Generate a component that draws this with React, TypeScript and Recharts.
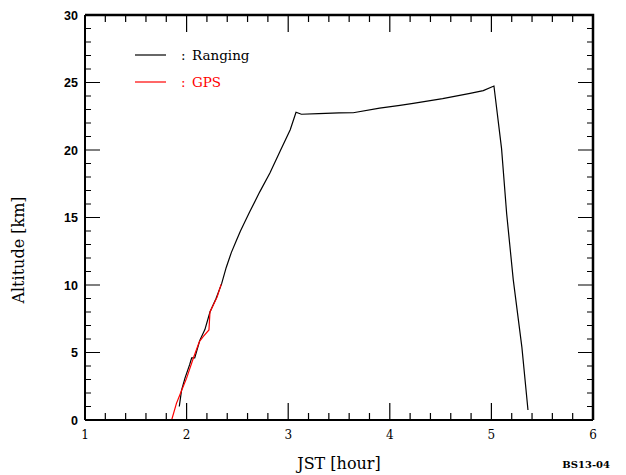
import { LineChart, Line, XAxis, YAxis, Customized } from 'recharts';

// Ranging (balloon altitude from ranging), JST hour vs km
const rangingHour = [1.928, 1.95, 1.984, 2.03, 2.05, 2.08, 2.13, 2.18, 2.23, 2.29, 2.345, 2.39, 2.44, 2.49, 2.53, 2.62, 2.72, 2.82, 2.92, 3.02, 3.077, 3.13, 3.3, 3.5, 3.64, 3.9, 4.1, 4.23, 4.52, 4.79, 4.92, 5.025, 5.1, 5.15, 5.215, 5.3, 5.36];
const rangingAlt = [1.0, 2.2, 3.1, 4.1, 4.6, 4.6, 5.9, 6.7, 8.0, 9.0, 10.1, 11.3, 12.4, 13.3, 14.0, 15.4, 16.9, 18.3, 19.9, 21.5, 22.8, 22.65, 22.7, 22.75, 22.76, 23.1, 23.3, 23.45, 23.8, 24.2, 24.4, 24.74, 20.1, 15.3, 10.4, 5.4, 0.74];

// GPS
const gpsHour = [1.853, 1.9, 1.94, 2.0, 2.066, 2.125, 2.165, 2.22, 2.23, 2.3, 2.34];
const gpsAlt = [0, 1.23, 1.98, 3.1, 4.57, 5.8, 6.2, 6.67, 8.0, 9.1, 10.05];

const xTicks = [1, 1.2, 1.4, 1.6, 1.8, 2, 2.2, 2.4, 2.6, 2.8, 3, 3.2, 3.4, 3.6, 3.8, 4, 4.2, 4.4, 4.6, 4.8, 5, 5.2, 5.4, 5.6, 5.8, 6];
const yTicks = [0, 1, 2, 3, 4, 5, 6, 7, 8, 9, 10, 11, 12, 13, 14, 15, 16, 17, 18, 19, 20, 21, 22, 23, 24, 25, 26, 27, 28, 29, 30];

const ranging = rangingHour.map((h, i) => ({ hour: h, alt: rangingAlt[i] }));
const gps = gpsHour.map((h, i) => ({ hour: h, alt: gpsAlt[i] }));

const SERIF = '"DejaVu Serif", serif';
const W = 626;
const H = 475;
const MARGIN = { top: 15, right: 33, left: 0, bottom: 0 };
const Y_AXIS_W = 85;
const X_AXIS_H = 55;
const PLOT_TOP = MARGIN.top;
const PLOT_RIGHT = W - MARGIN.right;
const PLOT_LEFT = MARGIN.left + Y_AXIS_W;
const PLOT_BOTTOM = H - MARGIN.bottom - X_AXIS_H;

const isMajorX = (v: number) => Math.abs(v - Math.round(v)) < 1e-6;
const isMajorY = (v: number) => v % 5 === 0;

// bottom tick also mirrors itself onto the top frame edge
const BottomTick = ({ x, y, payload }: any) => {
  const major = isMajorX(payload.value);
  const len = major ? 17 : 7;
  return (
    <g>
      <path d={`M${x},${y}V${y - len}M${x},${PLOT_TOP}V${PLOT_TOP + len}`} stroke="#000" strokeWidth={1.2} fill="none" />
      {major && (
        <text x={x} y={y + 18.5} textAnchor="middle" fontFamily={SERIF} fontSize={12} fill="#000">
          {Math.round(payload.value)}
        </text>
      )}
    </g>
  );
};

// left tick also mirrors itself onto the right frame edge
const LeftTick = ({ x, y, payload }: any) => {
  const major = isMajorY(payload.value);
  const len = major ? 15 : 6;
  return (
    <g>
      <path d={`M${x},${y}H${x + len}M${PLOT_RIGHT},${y}H${PLOT_RIGHT - len}`} stroke="#000" strokeWidth={1.2} fill="none" />
      {major && (
        <text x={x - 7} y={y + 4.5} textAnchor="end" fontFamily='"Liberation Sans", Arial, sans-serif' fontWeight="bold" fontSize={12.5} fill="#000">
          {payload.value}
        </text>
      )}
    </g>
  );
};

const Decorations = () => (
  <g fontFamily={SERIF}>
    {/* top and right edges of the plot frame */}
    <path d={`M${PLOT_LEFT},${PLOT_TOP}H${PLOT_RIGHT}V${PLOT_BOTTOM}`} fill="none" stroke="#000" strokeWidth={2.5} />
    <line x1={135} x2={166} y1={55} y2={55} stroke="#000" strokeWidth={1.2} />
    <text x={181} y={60} fontSize={13.5} fill="#000">:</text>
    <text x={192} y={60} fontSize={13.5} fill="#000">Ranging</text>
    <line x1={135} x2={166} y1={82} y2={82} stroke="#ff0000" strokeWidth={1.2} />
    <text x={181} y={87} fontSize={13.5} fill="#ff0000">:</text>
    <text x={192} y={87} fontSize={13.5} fill="#ff0000">GPS</text>
    <text x={339} y={469} textAnchor="middle" fontSize={16} fill="#000">JST [hour]</text>
    <text x={24} y={250} textAnchor="middle" fontSize={16} fill="#000" transform="rotate(-90 24 250)">Altitude [km]</text>
    <text x={610} y={468} textAnchor="end" fontSize={10} fontWeight="bold" fill="#000">BS13-04</text>
  </g>
);

const axisLine = { stroke: '#000', strokeWidth: 2 };

export default function App() {
  return (
    <div style={{ position: 'absolute', left: 0, top: 0, width: W, height: H, background: '#fff' }}>
      <LineChart width={W} height={H} margin={MARGIN}>
        <XAxis dataKey="hour" type="number" domain={[1, 6]} ticks={xTicks} interval={0}
          allowDataOverflow height={X_AXIS_H} tickSize={0} tickMargin={0} tickLine={false} axisLine={axisLine} tick={<BottomTick />} />
        <YAxis type="number" domain={[0, 30]} ticks={yTicks} interval={0} allowDataOverflow
          width={Y_AXIS_W} tickSize={0} tickMargin={0} tickLine={false} axisLine={axisLine} tick={<LeftTick />} />
        <Line data={ranging} dataKey="alt" type="linear" stroke="#000" strokeWidth={1.2}
          dot={false} isAnimationActive={false} />
        <Line data={gps} dataKey="alt" type="linear" stroke="#ff0000" strokeWidth={1.2}
          dot={false} isAnimationActive={false} />
        <Customized component={<Decorations />} />
      </LineChart>
    </div>
  );
}
